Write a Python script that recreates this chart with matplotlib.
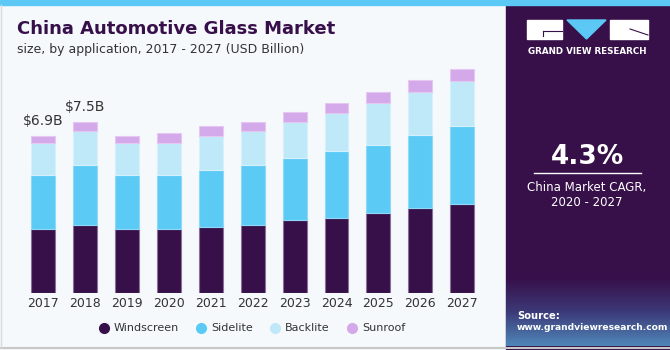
import numpy as np
import matplotlib
matplotlib.use('Agg')
from matplotlib import pyplot as plt
from matplotlib.patches import Rectangle, Polygon
from matplotlib.lines import Line2D

years = ['2017', '2018', '2019', '2020', '2021', '2022',
         '2023', '2024', '2025', '2026', '2027']
windscreen = [2.79, 3.00, 2.79, 2.79, 2.89, 3.00, 3.20, 3.30, 3.51, 3.71, 3.90]
sidelite = [2.39, 2.60, 2.39, 2.39, 2.50, 2.60, 2.70, 2.91, 3.00, 3.20, 3.42]
backlite = [1.42, 1.50, 1.42, 1.42, 1.50, 1.50, 1.61, 1.70, 1.81, 1.92, 1.99]
sunroof = [0.29, 0.38, 0.29, 0.41, 0.42, 0.38, 0.42, 0.42, 0.50, 0.50, 0.50]
series = ['Windscreen', 'Sidelite', 'Backlite', 'Sunroof']
colors = ['#37104a', '#5bcbf5', '#bfe9f8', '#d4a9ea']
edges = ['#8a6f98', '#8fd9f7', '#d6f1fb', '#e4c8f1']
labels = {0: '$6.9B', 1: '$7.5B'}

W, H = 670, 350
fig = plt.figure(figsize=(6.7, 3.5), dpi=100)
fig.patch.set_facecolor('#f5f9fc')

# background panels (pixel coords via a full-figure axes)
bg = fig.add_axes([0, 0, 1, 1])
bg.set_xlim(0, W)
bg.set_ylim(H, 0)
bg.axis('off')
bg.add_patch(Rectangle((0, 0), W, H, color='#f5f9fc'))
bg.add_patch(Rectangle((506, 0), W - 506, H, color='#37104a'))
# bottom gradient of the side panel
grad = np.linspace(0, 1, 60)[:, None]
cmap = matplotlib.colors.LinearSegmentedColormap.from_list(
    'g', ['#37104a', '#3c3a78', '#4f86b8'])
bg.imshow(grad, extent=(506, W, 346, 278), cmap=cmap, aspect='auto', zorder=1)
bg.add_patch(Rectangle((0, 0), W, 5, color='#5bc8f5', zorder=3))
bg.add_line(Line2D([0, W], [347.5, 347.5], color='#c8c8c8', lw=1.5, zorder=3))
bg.add_line(Line2D([1, 1], [5, 347], color='#d8dde2', lw=1, zorder=3))

# logo
bg.add_patch(Rectangle((527, 20), 35, 19, color='white', zorder=3))
bg.add_patch(Rectangle((610, 20), 38, 19, color='white', zorder=3))
bg.add_patch(Polygon([(567, 20), (606, 20), (586.5, 39)], color='#5bc8f5', zorder=3))
bg.add_line(Line2D([543, 562], [31, 31], color='#37104a', lw=0.8, zorder=4))
bg.add_line(Line2D([543, 543], [31, 36], color='#37104a', lw=0.8, zorder=4))
bg.add_line(Line2D([630, 648], [29, 35], color='#37104a', lw=0.8, zorder=4))
bg.text(587, 51, 'GRAND VIEW RESEARCH', color='white', fontsize=6.3,
        fontweight='bold', ha='center', va='center', zorder=4)

bg.text(587, 157, '4.3%', color='white', fontsize=19, fontweight='bold',
        ha='center', va='center', zorder=4)
bg.add_line(Line2D([534, 641], [173, 173], color='white', lw=1, zorder=4))
bg.text(587, 188, 'China Market CAGR,', color='white', fontsize=8.5,
        ha='center', va='center', zorder=4)
bg.text(587, 203, '2020 - 2027', color='white', fontsize=8.5,
        ha='center', va='center', zorder=4)
bg.text(517, 316, 'Source:', color='white', fontsize=7.2, fontweight='bold',
        ha='left', va='center', zorder=4)
bg.text(517, 328, 'www.grandviewresearch.com', color='white', fontsize=6.6,
        fontweight='bold', ha='left', va='center', zorder=4)

# titles
bg.text(17, 29, 'China Automotive Glass Market', color='#37104a',
        fontsize=13, fontweight='heavy', ha='left', va='center', zorder=4)
bg.text(17, 49, 'size, by application, 2017 - 2027 (USD Billion)',
        color='#333333', fontsize=9, ha='left', va='center', zorder=4)

# chart
unit = 41.9
left_px = 43 - 0.8 * unit
right_px = 462.3 + 0.8 * unit
base_px = 293
top_px = base_px - 10 * 22.8
ax = fig.add_axes([left_px / W, (H - base_px) / H,
                   (right_px - left_px) / W, (base_px - top_px) / H])
ax.set_facecolor('none')
x = np.arange(len(years))
bottom = np.zeros(len(years))
for name, vals, c, ec in zip(series, [windscreen, sidelite, backlite, sunroof],
                             colors, edges):
    ax.bar(x, vals, 0.57, bottom=bottom, color=c, edgecolor=ec,
           linewidth=0.8, label=name)
    bottom += np.array(vals)
for i, t in labels.items():
    ax.text(x[i], bottom[i] + 0.35, t, ha='center', va='bottom',
            fontsize=10, color='#333333')
ax.set_xlim(-0.8, 10.8)
ax.set_ylim(0, 10)
ax.set_xticks(x)
ax.set_xticklabels(years, fontsize=9, color='#333333')
ax.tick_params(axis='x', length=0, pad=3)
ax.set_yticks([])
for s in ax.spines.values():
    s.set_visible(False)

# legend
leg_x = [104, 201, 275, 352]
for lx, name, c in zip(leg_x, series, colors):
    bg.plot([lx], [328], 'o', color=c, markersize=7, zorder=4)
    bg.text(lx + 10, 328, name, fontsize=8, color='#333333',
            ha='left', va='center', zorder=4)

fig.savefig('out.png', dpi=100, facecolor=fig.get_facecolor())
